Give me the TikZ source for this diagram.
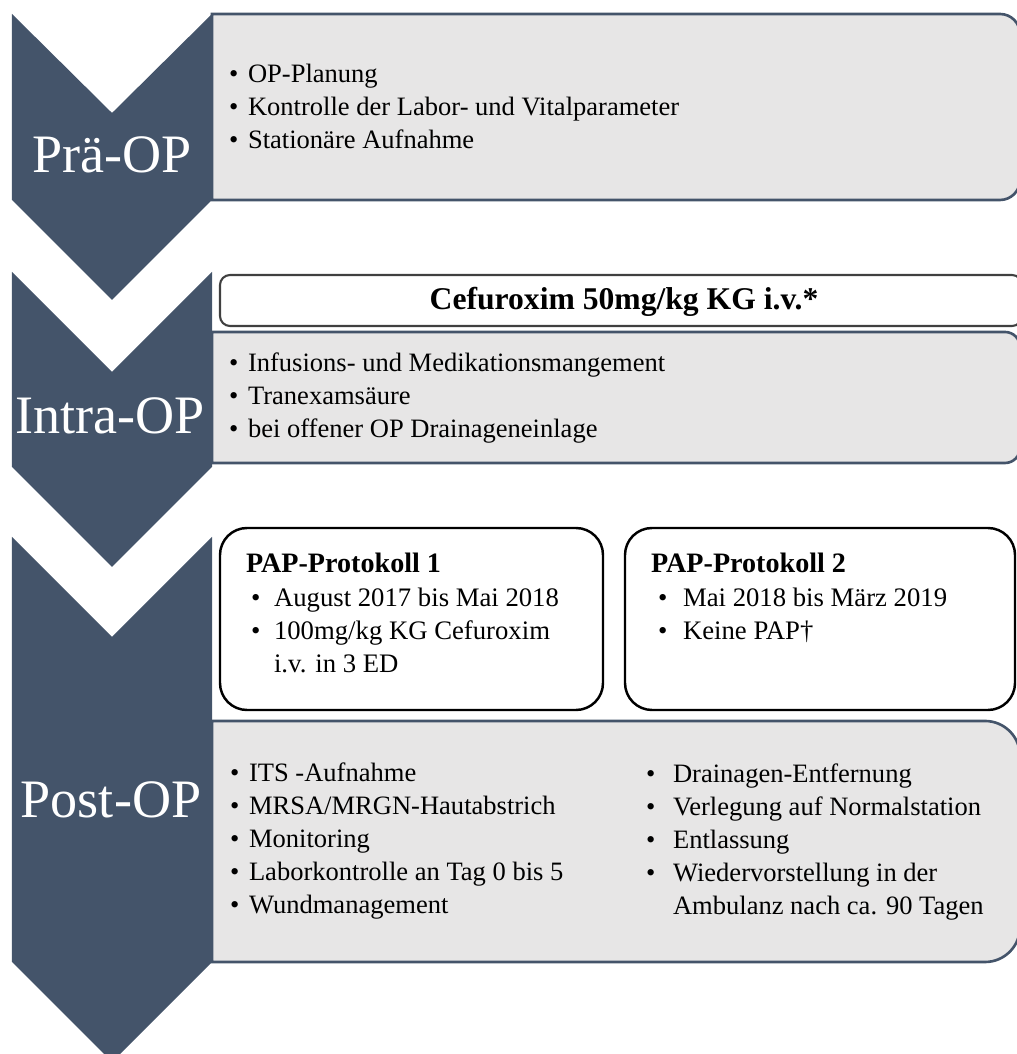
\documentclass[tikz,border=0pt]{standalone}
\usepackage{fontspec}
\setmainfont{Liberation Serif}
\definecolor{slate}{HTML}{44546A}
\definecolor{panelgray}{HTML}{E7E6E6}
\newcommand{\itm}[2][0.19cm]{\makebox[#1][l]{\textbullet}#2}
\begin{document}
\begin{tikzpicture}[line width=0.6pt,
  panelbox/.style={fill=panelgray, draw=slate, line width=0.75pt},
  dosebox/.style={fill=white, draw=black!75, line width=0.6pt, rounded corners=0.10cm},
  papbox/.style={fill=white, draw=black, line width=0.7pt, rounded corners=0.27cm},
  phaselabel/.style={text=white, inner sep=0pt, font=\fontsize{15.4}{18}\selectfont},
  itemlist/.style={anchor=west, align=left, inner sep=0pt, font=\fontsize{7.55}{9.4}\selectfont},
  paptitle/.style={anchor=west, inner sep=0pt, font=\fontsize{8.0}{9.4}\selectfont\bfseries},
  paplist/.style={anchor=west, align=left, inner sep=0pt, font=\fontsize{7.6}{9.4}\selectfont}]
  \useasboundingbox (0,0) rectangle (10.17,10.54);
  \clip (0,0) rectangle (10.17,10.54);
  \draw[panelbox] (2.12,10.40) -- (10.00,10.40) arc (90:0:0.20) -- (10.20,8.74) arc (0:-90:0.20) -- (2.12,8.54) -- cycle;
  \draw[panelbox] (2.12,7.22) -- (10.05,7.22) arc (90:0:0.15) -- (10.20,6.06) arc (0:-90:0.15) -- (2.12,5.91) -- cycle;
  \draw[panelbox] (2.12,3.33) -- (9.85,3.33) arc (90:0:0.35) -- (10.20,1.27) arc (0:-90:0.35) -- (2.12,0.92) -- cycle;
  \draw[dosebox] (2.20,7.28) rectangle (10.22,7.79);
  \draw[papbox] (2.20,3.44) rectangle (6.03,5.26);
  \draw[papbox] (6.25,3.44) rectangle (10.15,5.26);
  \fill[slate] (0.12,10.40) -- (1.12,9.41) -- (2.12,10.40) -- (2.12,8.54) -- (1.12,7.54) -- (0.12,8.54) -- cycle;
  \fill[slate] (0.12,7.82) -- (1.12,6.82) -- (2.12,7.82) -- (2.12,5.87) -- (1.12,4.87) -- (0.12,5.87) -- cycle;
  \fill[slate] (0.12,5.17) -- (1.12,4.17) -- (2.12,5.17) -- (2.12,0.92) -- (1.12,-0.08) -- (0.12,0.92) -- cycle;
  \node[phaselabel] (pre) at (1.12,8.99) {Prä-OP};
  \node[phaselabel] (intra) at (1.10,6.38) {Intra-OP};
  \node[phaselabel] (post) at (1.11,2.54) {Post-OP};
  \node[itemlist] (prelist) at (2.28,9.48) {\itm{OP-Planung}\\ \itm{Kontrolle der Labor- und Vitalparameter}\\ \itm{Stationäre Aufnahme}};
  \node[inner sep=0pt, font=\fontsize{9.0}{10}\selectfont\bfseries] (dose) at (6.24,7.52) {Cefuroxim 50mg/kg KG i.v.*};
  \node[itemlist] (intralist) at (2.28,6.56) {\itm{Infusions- und Medikationsmangement}\\ \itm{Tranexamsäure}\\ \itm{bei offener OP Drainageneinlage}};
  \node[paptitle] (pap1) at (2.45,4.91) {PAP-Protokoll 1};
  \node[paplist] (pap1list) at (2.50,4.235) {\itm[0.23cm]{August 2017 bis Mai 2018}\\ \itm[0.23cm]{100mg/kg KG Cefuroxim}\\ \hspace*{0.23cm}i.v. in 3 ED};
  \node[paptitle] (pap2) at (6.50,4.91) {PAP-Protokoll 2};
  \node[paplist] (pap2list) at (6.57,4.39) {\itm[0.25cm]{Mai 2018 bis März 2019}\\ \itm[0.25cm]{Keine PAP†}};
  \node[itemlist] (postleft) at (2.29,2.13) {\itm{ITS -Aufnahme}\\ \itm{MRSA/MRGN-Hautabstrich}\\ \itm{Monitoring}\\ \itm{Laborkontrolle an Tag 0 bis 5}\\ \itm{Wundmanagement}};
  \node[itemlist] (postright) at (6.45,2.12) {\itm[0.27cm]{Drainagen-Entfernung}\\ \itm[0.27cm]{Verlegung auf Normalstation}\\ \itm[0.27cm]{Entlassung}\\ \itm[0.27cm]{Wiedervorstellung in der}\\ \hspace*{0.27cm}Ambulanz nach ca. 90 Tagen};
\end{tikzpicture}
\end{document}
